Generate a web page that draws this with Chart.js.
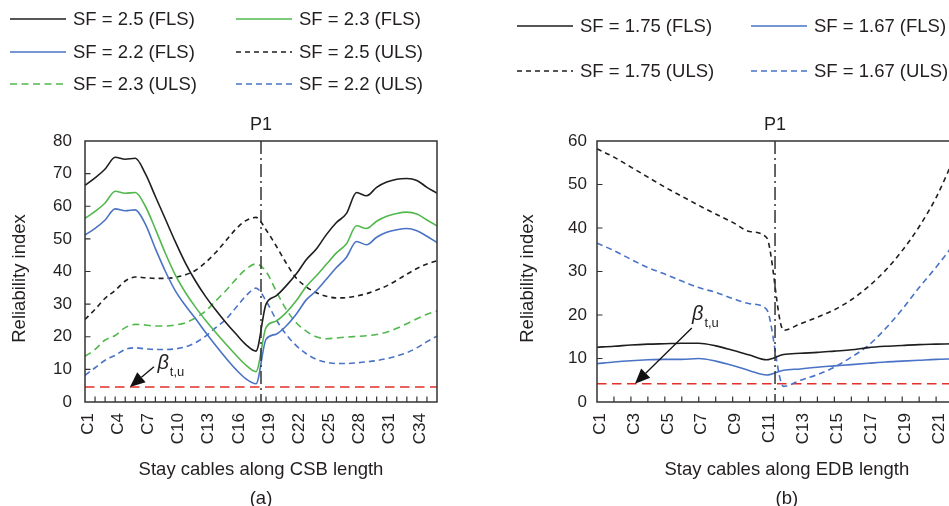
<!DOCTYPE html>
<html><head><meta charset="utf-8">
<script src="https://cdn.jsdelivr.net/npm/chart.js@4.4.1/dist/chart.umd.min.js"></script>
<style>
html,body{margin:0;padding:0;background:#fff;overflow:hidden;width:949px;height:506px;position:relative;}
#ca{position:absolute;left:0;top:0;}
#cb{position:absolute;left:500px;top:0;}
</style></head><body>
<canvas id="ca" width="470" height="514" style="width:470px;height:514px"></canvas>
<canvas id="cb" width="490" height="514" style="width:490px;height:514px"></canvas>
<script>
// ---------------- Panel (a): CSB ----------------
const catsA = ['C1','C2','C3','C4','C5','C6','C7','C8','C9','C10','C11','C12','C13','C14','C15','C16','C17','C18',
               'C19','C20','C21','C22','C23','C24','C25','C26','C27','C28','C29','C30','C31','C32','C33','C34','C35','C36'];
const tickLabelsA = ['C1','C4','C7','C10','C13','C16','C19','C22','C25','C28','C31','C34'];
const a_sf25_fls = [66.4,68.7,71.4,75.0,74.4,74.7,70.0,63.0,56.0,49.0,42.5,37.0,32.3,28.2,24.4,20.9,17.6,15.6,
                    30.0,32.5,35.6,39.2,43.6,46.9,51.3,55.0,57.8,64.2,63.2,65.8,67.4,68.3,68.5,67.9,65.8,64.0];
const a_sf23_fls = [56.3,58.4,61.0,64.6,64.0,64.2,60.0,53.0,45.5,38.8,33.5,29.0,25.0,21.3,17.8,14.4,11.3,9.3,
                    22.8,24.8,27.4,31.0,35.4,38.7,42.2,45.7,48.5,54.0,53.2,55.4,56.9,57.8,58.2,57.6,55.8,54.0];
const a_sf22_fls = [51.2,53.2,55.8,59.2,58.6,58.9,54.5,47.0,40.0,34.0,29.5,25.5,21.3,17.3,13.5,10.0,7.1,5.6,
                    19.2,20.8,23.3,26.9,31.3,34.1,37.6,41.2,44.4,49.2,48.2,50.5,52.0,52.8,53.2,52.5,50.8,48.9];
const a_sf25_uls = [25.3,28.4,31.8,34.2,37.1,38.3,38.1,37.9,37.9,38.2,39.0,40.4,42.8,45.8,49.4,53.0,55.6,56.6,
                    52.8,47.9,42.6,38.0,35.3,33.5,32.4,31.9,32.0,32.5,33.2,34.3,35.6,37.3,39.2,40.9,42.3,43.3];
const a_sf23_uls = [14.0,16.1,19.0,20.4,22.8,23.8,23.6,23.3,23.3,23.6,24.3,25.8,27.9,31.0,34.1,37.6,40.7,42.3,
                    40.0,34.1,28.4,24.3,21.7,20.0,19.4,19.6,19.9,20.1,20.3,20.7,21.4,22.6,24.0,25.5,26.9,27.9];
const a_sf22_uls = [8.2,10.5,12.8,14.3,16.1,16.6,16.3,16.1,16.1,16.3,16.9,18.2,20.2,22.8,25.3,28.9,32.5,34.9,
                    31.0,25.3,20.7,17.3,14.8,13.1,12.2,11.8,11.8,12.0,12.3,12.7,13.3,14.1,15.1,16.6,18.5,20.2];
const pylonA = 18.5;      // pylon P1 between C18 and C19
const betaA = 4.6;        // target reliability beta_t,u

// ---------------- Panel (b): EDB ----------------
const catsB = ['C1','C2','C3','C4','C5','C6','C7','C8','C9','C10','C11','C12','C13','C14','C15','C16','C17','C18',
               'C19','C20','C21','C22','C23'];
const tickLabelsB = ['C1','C3','C5','C7','C9','C11','C13','C15','C17','C19','C21'];
const b_sf175_fls = [12.6,12.8,13.1,13.3,13.4,13.5,13.5,12.9,11.9,10.8,9.7,10.9,11.2,11.4,11.7,12.0,12.5,12.8,13.0,13.2,13.3,13.4];
const b_sf167_fls = [8.8,9.2,9.5,9.7,9.8,9.8,10.0,9.4,8.4,7.2,6.2,7.3,7.6,8.0,8.3,8.6,8.9,9.2,9.4,9.6,9.8,9.9];
const b_sf175_uls = [58.2,56.3,54.0,51.7,49.4,47.3,45.2,43.2,41.3,39.2,37.8,16.5,18.0,19.5,21.2,23.5,26.5,30.2,34.8,40.3,47.0,55.5];
const b_sf167_uls = [36.5,34.8,32.8,30.9,29.4,27.8,26.3,25.2,23.8,22.6,21.3,3.6,5.0,6.3,8.0,10.3,13.0,16.8,21.3,26.3,31.0,36.0];
const pylonB = 11.5;
const betaB = 4.2;

// ---------------- styling ----------------
const FONT = "'Liberation Sans', Arial, Helvetica, sans-serif";
const INK = '#231f20';
const C_BLACK = '#1e1e1e', C_GREEN = '#52b84e', C_BLUE = '#4a73c6', C_RED = '#e2302a';
Chart.defaults.font.family = FONT;
Chart.defaults.color = INK;

function drawArrow(ctx, x1, y1, x2, y2, head, w) {
  const ang = Math.atan2(y2 - y1, x2 - x1);
  const bx = x2 - head * Math.cos(ang), by = y2 - head * Math.sin(ang);
  ctx.beginPath(); ctx.moveTo(x1, y1); ctx.lineTo(bx, by); ctx.stroke();
  ctx.beginPath(); ctx.moveTo(x2, y2);
  ctx.lineTo(bx + w * Math.sin(ang), by - w * Math.cos(ang));
  ctx.lineTo(bx - w * Math.sin(ang), by + w * Math.cos(ang));
  ctx.closePath(); ctx.fill();
}

function decor(P) {
  return {
    id: 'decor' + P.key,
    beforeDatasetsDraw(chart) {
      const {ctx, chartArea: a, scales: {y}} = chart;
      const yb = y.getPixelForValue(P.beta);
      ctx.save();
      ctx.strokeStyle = C_RED; ctx.lineWidth = 1.4; ctx.setLineDash([9.5, 5.5]);
      ctx.beginPath(); ctx.moveTo(a.left, yb); ctx.lineTo(a.right, yb); ctx.stroke();
      ctx.restore();
    },
    afterDatasetsDraw(chart) {
      const {ctx, chartArea: a, scales: {x, y}} = chart;
      ctx.save();
      // pylon line
      const xp = x.getPixelForValue(P.pylon);
      ctx.strokeStyle = '#333'; ctx.lineWidth = 1.5; ctx.setLineDash([13, 4, 2, 4]);
      ctx.beginPath(); ctx.moveTo(xp, a.top); ctx.lineTo(xp, a.bottom); ctx.stroke();
      ctx.setLineDash([]);
      // frame
      ctx.strokeStyle = '#333'; ctx.lineWidth = 1.5;
      ctx.strokeRect(a.left, a.top, a.right - a.left, a.bottom - a.top);
      // inner ticks
      ctx.lineWidth = 1.2; ctx.beginPath();
      x.ticks.forEach(t => {
        if (t.value > P.xMin && t.value < P.xMax) {
          const px = x.getPixelForValue(t.value);
          ctx.moveTo(px, a.bottom); ctx.lineTo(px, a.bottom - 5.5);
        }
      });
      y.ticks.forEach(t => {
        if (t.value > 0 && t.value < P.yMax) {
          const py = y.getPixelForValue(t.value);
          ctx.moveTo(a.left, py); ctx.lineTo(a.left + 5.5, py);
        }
      });
      ctx.stroke();
      // P1 label
      ctx.fillStyle = INK; ctx.font = '18px ' + FONT; ctx.textAlign = 'center'; ctx.textBaseline = 'middle';
      ctx.fillText(P.pylonLabel, xp, a.top - 16);
      // beta annotation arrow
      ctx.fillStyle = '#111'; ctx.strokeStyle = '#111'; ctx.lineWidth = 1.3;
      drawArrow(ctx, x.getPixelForValue(P.arrowFrom[0]), y.getPixelForValue(P.arrowFrom[1]),
                x.getPixelForValue(P.arrowTo[0]), y.getPixelForValue(P.arrowTo[1]), 15, 6.5);
      const tx = x.getPixelForValue(P.betaText[0]), ty = y.getPixelForValue(P.betaText[1]);
      ctx.fillStyle = INK; ctx.textAlign = 'left'; ctx.textBaseline = 'alphabetic';
      ctx.font = 'italic 20px ' + FONT;
      ctx.fillText('\u03B2', tx, ty);
      const bw = ctx.measureText('\u03B2').width;
      ctx.font = '13px ' + FONT;
      ctx.fillText('t,u', tx + bw + 1, ty + 7);
      ctx.restore();
    },
    afterDraw(chart) {
      const {ctx} = chart;
      ctx.save();
      chart.data.datasets.forEach((ds, i) => {
        const lx = P.legCols[i % 2], ly = P.legRows[Math.floor(i / 2)];
        ctx.strokeStyle = ds.borderColor; ctx.lineWidth = ds.borderWidth;
        ctx.setLineDash(ds.borderDash || []);
        ctx.beginPath(); ctx.moveTo(lx, ly); ctx.lineTo(lx + 56, ly); ctx.stroke();
        ctx.setLineDash([]);
        ctx.fillStyle = INK; ctx.font = '18.5px ' + FONT; ctx.textAlign = 'left'; ctx.textBaseline = 'middle';
        ctx.fillText(ds.label, lx + 63, ly + 1);
      });
      ctx.restore();
    }
  };
}

function makeChart(id, P) {
  return new Chart(document.getElementById(id), {
    type: 'line',
    data: {
      datasets: P.series.map(s => ({
        label: s.label,
        data: s.vals.map((v, i) => ({x: i + 1, y: v})),
        borderColor: s.color, borderDash: s.dash, borderWidth: 1.6,
        pointRadius: 0, pointHoverRadius: 0, fill: false,
        cubicInterpolationMode: 'monotone'
      }))
    },
    options: {
      responsive: false, animation: false, events: [],
      layout: {padding: {left: 0, right: P.padRight, top: 141, bottom: 0}},
      plugins: {legend: {display: false}, tooltip: {enabled: false}},
      scales: {
        x: {
          type: 'linear', min: P.xMin, max: P.xMax,
          afterBuildTicks: s => { s.ticks = P.cats.map((c, i) => ({value: i + 1})).filter(t => t.value <= P.xMax); },
          afterFit: s => { s.height = 112; s.paddingLeft = 0; s.paddingRight = 0; },
          grid: {display: false, drawTicks: false}, border: {display: false},
          ticks: {
            autoSkip: false, minRotation: 90, maxRotation: 90, padding: 11, labelOffset: 3,
            color: INK, font: {size: 17},
            callback: v => { const c = P.cats[Math.round(v) - 1]; return P.tickLabels.includes(c) ? c : ''; }
          },
          title: {display: true, text: [P.xTitle, P.tag], color: INK,
                  font: {size: 18.5, lineHeight: 29 / 18.5}, padding: {top: 0, bottom: 0.5}}
        },
        y: {
          min: 0, max: P.yMax,
          afterFit: s => { s.width = P.yWidth; },
          grid: {display: false, drawTicks: false}, border: {display: false},
          ticks: {stepSize: 10, padding: P.yPad, color: INK, font: {size: 17}},
          title: {display: true, text: 'Reliability index\u00a0\u00a0\u2009', color: INK,
                  font: {size: 18.5}, padding: {top: P.yTitlePad, bottom: 0}}
        }
      }
    },
    plugins: [decor(P)]
  });
}

makeChart('ca', {
  key: 'A', cats: catsA, tickLabels: tickLabelsA, xMin: 1, xMax: 36, yMax: 80,
  padRight: 33, yWidth: 85, yPad: 13, yTitlePad: 8.9,
  xTitle: 'Stay cables along CSB length', tag: '(a)',
  pylon: pylonA, pylonLabel: 'P1', beta: betaA,
  arrowFrom: [7.86, 10.8], arrowTo: [5.47, betaA], betaText: [8.2, 10.1],
  legCols: [10, 236], legRows: [19, 52, 84],
  series: [
    {label: 'SF = 2.5 (FLS)', vals: a_sf25_fls, color: C_BLACK, dash: []},
    {label: 'SF = 2.3 (FLS)', vals: a_sf23_fls, color: C_GREEN, dash: []},
    {label: 'SF = 2.2 (FLS)', vals: a_sf22_fls, color: C_BLUE, dash: []},
    {label: 'SF = 2.5 (ULS)', vals: a_sf25_uls, color: C_BLACK, dash: [5, 4]},
    {label: 'SF = 2.3 (ULS)', vals: a_sf23_uls, color: C_GREEN, dash: [7, 4.5]},
    {label: 'SF = 2.2 (ULS)', vals: a_sf22_uls, color: C_BLUE, dash: [6, 4]}
  ]
});

makeChart('cb', {
  key: 'B', cats: catsB, tickLabels: tickLabelsB, xMin: 1, xMax: 23.4, yMax: 60,
  padRight: 13.2, yWidth: 97, yPad: 10, yTitlePad: 16.9,
  xTitle: 'Stay cables along EDB length', tag: '(b)',
  pylon: pylonB, pylonLabel: 'P1', beta: betaB,
  arrowFrom: [6.59, 17.0], arrowTo: [3.24, betaB], betaText: [6.6, 18.9],
  legCols: [17, 251], legRows: [26, 71],
  series: [
    {label: 'SF = 1.75 (FLS)', vals: b_sf175_fls, color: C_BLACK, dash: []},
    {label: 'SF = 1.67 (FLS)', vals: b_sf167_fls, color: C_BLUE, dash: []},
    {label: 'SF = 1.75 (ULS)', vals: b_sf175_uls, color: C_BLACK, dash: [5, 4]},
    {label: 'SF = 1.67 (ULS)', vals: b_sf167_uls, color: C_BLUE, dash: [6, 4]}
  ]
});
</script>
</body></html>
